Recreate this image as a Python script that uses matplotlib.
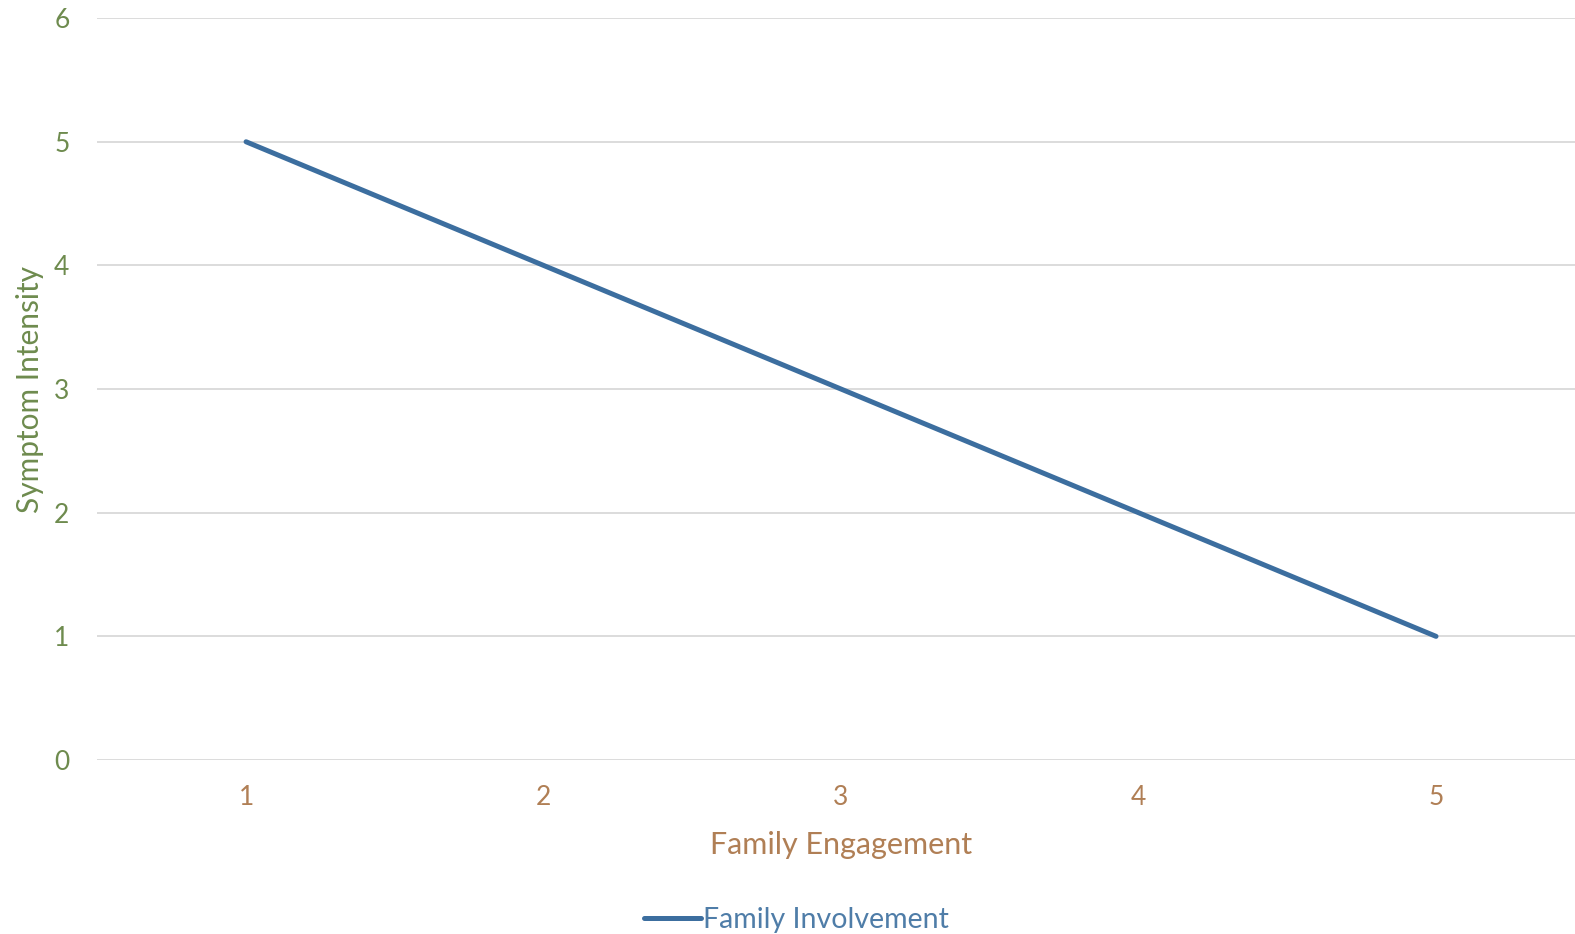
import matplotlib
matplotlib.use("Agg")
import matplotlib.pyplot as plt

# data
engagement = [1, 2, 3, 4, 5]
symptom_intensity = [5, 4, 3, 2, 1]
y_ticks = [0, 1, 2, 3, 4, 5, 6]

line_color = "#3C6E9F"
grid_color = "#D9D9D9"
ytick_color = "#6E8B4E"
xtick_color = "#B07F55"
legend_text_color = "#4F7DA8"

plt.rcParams['font.family'] = ['Lato', 'DejaVu Sans']

fig = plt.figure(figsize=(15.75, 9.34), dpi=100)
ax = fig.add_axes([0.0618, 0.1863, 0.9444, 0.7943])

ax.plot(engagement, symptom_intensity, color=line_color, linewidth=3.6,
        solid_capstyle='round', label="Family Involvement", zorder=3)

ax.set_xlim(0.5, 5.5)
ax.set_ylim(0, 6)
ax.set_yticks(y_ticks)
ax.set_xticks(engagement)
ax.yaxis.grid(True, color=grid_color, linewidth=1.3)
ax.set_axisbelow(True)
for s in ax.spines.values():
    s.set_visible(False)
ax.tick_params(length=0)
ax.tick_params(axis='y', colors=ytick_color, labelsize=19, pad=20)
ax.tick_params(axis='x', colors=xtick_color, labelsize=19, pad=18)

ax.set_xlabel("Family Engagement", color=xtick_color, fontsize=22, labelpad=15)
ax.set_ylabel("Symptom Intensity", color=ytick_color, fontsize=21.5, labelpad=7)

leg = ax.legend(loc='center', bbox_to_anchor=(0.470, -0.2155), frameon=False,
                fontsize=20.5, handlelength=2.0, handletextpad=0.1)
for t in leg.get_texts():
    t.set_color(legend_text_color)

fig.savefig("out.png", dpi=100)
